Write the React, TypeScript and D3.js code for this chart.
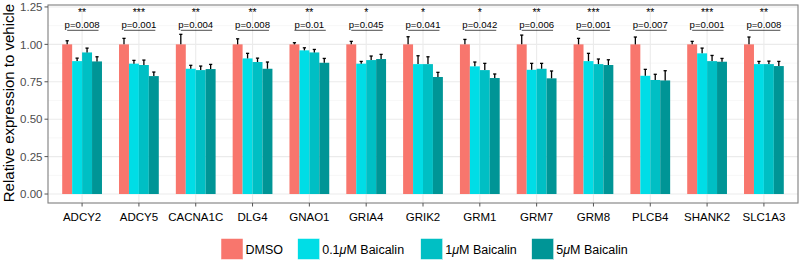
import React from "react";
import * as d3 from "d3";

const genes = ["ADCY2","ADCY5","CACNA1C","DLG4","GNAO1","GRIA4","GRIK2","GRM1","GRM7","GRM8","PLCB4","SHANK2","SLC1A3"];
const groups = ["DMSO","0.1","1","5"];
const groupLabels = ["DMSO","0.1|M Baicalin","1|M Baicalin","5|M Baicalin"];
const colors = ["#F8766D","#00DDE6","#00BFC4","#009596"];

const dmso = [1,1,1,1,1,1,1,1,1,1,1,1,1];
const dmsoTop = [1.024,1.04,1.067,1.037,1.011,1.02,1.051,1.033,1.062,1.04,1.049,1.02,1.049];
const b01 = [0.888,0.871,0.837,0.906,0.96,0.871,0.868,0.853,0.83,0.888,0.79,0.94,0.868];
const b01Top = [0.908,0.893,0.86,0.94,0.977,0.886,0.924,0.882,0.873,0.94,0.833,0.975,0.886];
const b1 = [0.946,0.862,0.828,0.882,0.946,0.895,0.868,0.828,0.837,0.868,0.762,0.888,0.868];
const b1Top = [0.975,0.895,0.855,0.908,0.966,0.922,0.917,0.873,0.873,0.902,0.8,0.926,0.888];
const b5 = [0.886,0.788,0.835,0.837,0.877,0.902,0.782,0.775,0.773,0.862,0.759,0.884,0.855];
const b5Top = [0.917,0.815,0.866,0.882,0.906,0.933,0.813,0.802,0.822,0.897,0.824,0.906,0.886];

const stars = ["**","***","**","**","**","*","*","*","**","***","**","***","**"];
const pvals = ["p=0.008","p=0.001","p=0.004","p=0.008","p=0.01","p=0.045","p=0.041","p=0.042","p=0.006","p=0.001","p=0.007","p=0.001","p=0.008"];

const yTicks = [0, 0.25, 0.5, 0.75, 1.0, 1.25];
const yMinor = [0.125, 0.375, 0.625, 0.875, 1.125];

const means = [dmso, b01, b1, b5];
const tops = [dmsoTop, b01Top, b1Top, b5Top];

const FONT = "'Liberation Sans', Arial, Helvetica, sans-serif";

function Label({ s }: { s: string }) {
  const parts = s.split("|");
  if (parts.length === 1) return <>{s}</>;
  return (
    <>
      {parts[0]}
      <tspan fontStyle="italic">μ</tspan>
      {parts[1]}
    </>
  );
}

export default function App() {
  const W = 800, H = 262;
  const left = 48, right = 798, top = 5, bottom = 203;
  const x = d3.scalePoint<string>().domain(genes).range([left, right]).padding(0.6);
  const step = x.step();
  const sub = d3.scaleBand<string>().domain(groups).range([-0.35 * step, 0.35 * step]);
  const bw = sub.bandwidth();
  const y = d3.scaleLinear().domain([-0.06, 1.263]).range([bottom, top]);

  const legendX = [221, 297.7, 420.7, 531.7];

  return (
    <svg width={W} height={H} style={{ position: "absolute", left: 0, top: 0, background: "#fff" }} fontFamily={FONT}>
      <rect x={0} y={0} width={W} height={H} fill="#fff" />
      {yMinor.map((t) => (
        <line key={"mn" + t} x1={left} x2={right} y1={y(t)} y2={y(t)} stroke="#F2F2F2" strokeWidth={0.6} />
      ))}
      {yTicks.map((t) => (
        <line key={"mj" + t} x1={left} x2={right} y1={y(t)} y2={y(t)} stroke="#EBEBEB" strokeWidth={1.1} />
      ))}
      {genes.map((g) => (
        <line key={"vg" + g} x1={x(g)!} x2={x(g)!} y1={top} y2={bottom} stroke="#EBEBEB" strokeWidth={1.1} />
      ))}
      {genes.map((g, i) =>
        groups.map((gr, j) => {
          const bx = x(g)! + sub(gr)!;
          const v = means[j][i];
          return (
            <rect key={g + gr} x={bx} y={y(v)} width={bw} height={y(0) - y(v)} fill={colors[j]} />
          );
        })
      )}
      {genes.map((g, i) =>
        groups.map((gr, j) => {
          const cx = x(g)! + sub(gr)! + bw / 2;
          const v = means[j][i];
          const t = tops[j][i];
          return (
            <g key={"e" + g + gr} stroke="#000" strokeWidth={1.3}>
              <line x1={cx} x2={cx} y1={y(v)} y2={y(t)} />
              <line x1={cx - 1.6} x2={cx + 1.6} y1={y(t)} y2={y(t)} />
            </g>
          );
        })
      )}
      {genes.map((g, i) => {
        const c = x(g)!;
        const x1 = c + sub("DMSO")! + bw / 2;
        const x2 = c + sub("5")! + bw / 2 + 1.5;
        return (
          <g key={"a" + g}>
            <text x={c} y={16.3} textAnchor="middle" fontSize={10.5} fill="#000">{stars[i]}</text>
            <text x={c} y={27.5} textAnchor="middle" fontSize={9.6} fill="#000">{pvals[i]}</text>
            <line x1={x1} x2={x2} y1={30.3} y2={30.3} stroke="#000" strokeWidth={0.7} />
          </g>
        );
      })}
      <rect x={left} y={top} width={right - left} height={bottom - top} fill="none" stroke="#7F7F7F" strokeWidth={1.1} />
      {yTicks.map((t) => (
        <g key={"yt" + t}>
          <line x1={left - 3.5} x2={left} y1={y(t)} y2={y(t)} stroke="#555" strokeWidth={1} />
          <text x={left - 5.5} y={y(t)} dy="0.36em" textAnchor="end" fontSize={11.5} fill="#4D4D4D">{t.toFixed(2)}</text>
        </g>
      ))}
      {genes.map((g) => (
        <g key={"xt" + g}>
          <line x1={x(g)!} x2={x(g)!} y1={bottom} y2={bottom + 3.5} stroke="#555" strokeWidth={1} />
          <text x={x(g)!} y={221} textAnchor="middle" fontSize={11.5} fill="#000">{g}</text>
        </g>
      ))}
      <text transform={`translate(13.5,${103}) rotate(-90)`} textAnchor="middle" fontSize={15} fill="#000">
        Relative expression to vehicle
      </text>
      {groups.map((gr, j) => (
        <g key={"lg" + gr}>
          <rect x={legendX[j]} y={238.5} width={22} height={21} fill={colors[j]} stroke="#fff" strokeWidth={0.5} />
          <text x={legendX[j] + 24.5} y={249} dy="0.36em" fontSize={12.5} fill="#000">
            <Label s={groupLabels[j]} />
          </text>
        </g>
      ))}
    </svg>
  );
}
